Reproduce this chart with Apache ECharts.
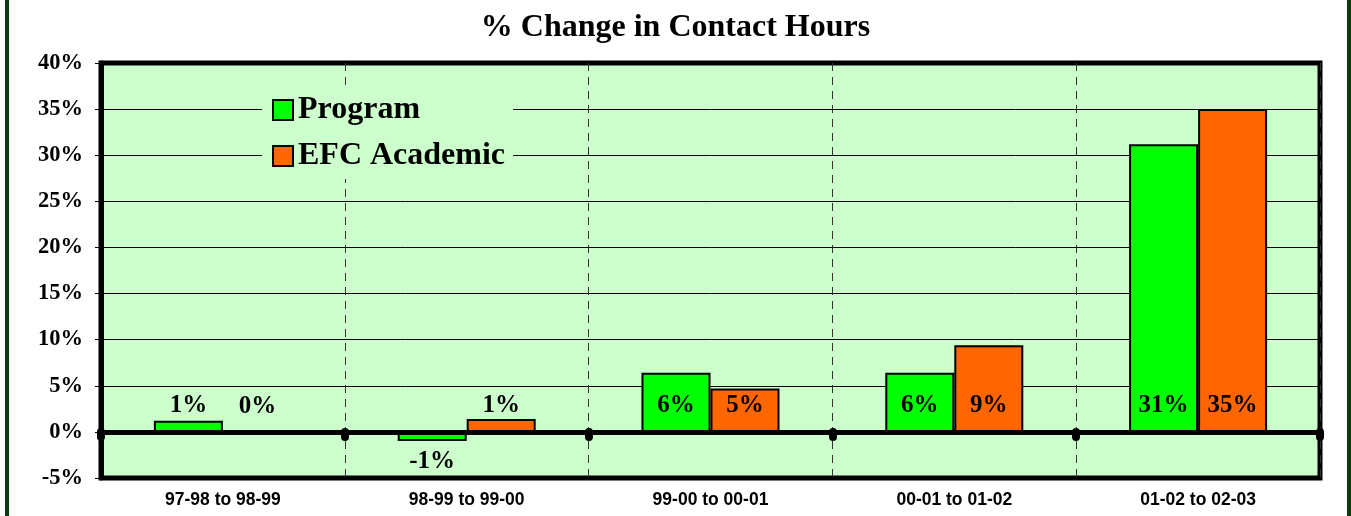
<!DOCTYPE html>
<html>
<head>
<meta charset="utf-8">
<script src="https://cdn.jsdelivr.net/npm/echarts@6/dist/echarts.min.js"></script>
<style>
  body { margin:0; background:#fff; }
  #wrap { position:relative; width:1351px; height:516px; }
  #main { position:absolute; left:0; top:0; width:1351px; height:516px; }
  .edge { position:absolute; top:0; width:4px; height:516px; background:#0b3d0b; }
</style>
</head>
<body>
<div id="wrap">
  <div id="main"></div>
  <div class="edge" style="left:5px"></div>
  <div class="edge" style="left:1347px"></div>
</div>
<script>
var categories = ['97-98 to 98-99', '98-99 to 99-00', '99-00 to 00-01', '00-01 to 01-02', '01-02 to 02-03'];
var program = [1.2, -1.0, 6.4, 6.4, 31.2];
var efcAcademic = [0.0, 1.4, 4.7, 9.4, 35.0];
var seriesNames = ['Program', 'EFC Academic'];

var serif = '"Liberation Serif", "Times New Roman", serif';

function withLabels(values){
  return values.map(function(v){
    var neg = v < 0;
    return {
      value: v,
      label: {
        show: true,
        position: neg ? 'insideTop' : 'insideBottom',
        distance: neg ? 17 : 14
      }
    };
  });
}

var labelStyle = {
  fontFamily: serif,
  fontWeight: 'bold',
  fontSize: 25,
  color: '#000',
  formatter: function(p){ return Math.round(p.value) + '%'; }
};

var myChart = echarts.init(document.getElementById('main'));
var option = {
  animation: false,
  title: {
    text: '% Change in Contact Hours',
    left: 'center',
    top: 7,
    textStyle: { fontFamily: serif, fontWeight: 'bold', fontSize: 32, color: '#000' }
  },
  legend: {
    orient: 'vertical',
    left: 262,
    top: 87,
    icon: 'rect',
    itemWidth: 20,
    itemHeight: 20,
    itemGap: 12,
    padding: [6, 8, 6, 10],
    backgroundColor: '#ccffcc',
    textStyle: { fontFamily: serif, fontWeight: 'bold', fontSize: 32, color: '#000', lineHeight: 34 },
    data: seriesNames
  },
  grid: {
    left: 101, right: 31, top: 63, bottom: 38,
    show: true,
    backgroundColor: '#ccffcc',
    borderColor: '#000',
    borderWidth: 5
  },
  xAxis: [{
    type: 'category',
    data: categories,
    position: 'bottom',
    axisLine: { show: false, onZero: false },
    axisTick: { show: false },
    splitLine: { show: true, lineStyle: { color: '#333', width: 1, type: [8, 6] } },
    axisLabel: {
      margin: 13,
      fontFamily: '"Liberation Sans", Arial, sans-serif',
      fontWeight: 'bold',
      fontSize: 17.5,
      color: '#000'
    }
  }, {
    type: 'category',
    data: categories,
    position: 'bottom',
    z: 10,
    axisLine: { show: true, onZero: true, lineStyle: { color: '#000', width: 5 } },
    axisTick: { show: true, length: 5, lineStyle: { color: '#000', width: 8, cap: 'round' } },
    axisLabel: { show: false },
    splitLine: { show: false }
  }],
  yAxis: {
    type: 'value',
    min: -5,
    max: 40,
    interval: 5,
    axisLine: { show: true, lineStyle: { color: '#000', width: 5 } },
    axisTick: { show: true, length: 6, lineStyle: { color: '#000', width: 1 } },
    splitLine: { show: true, lineStyle: { color: '#000', width: 1 } },
    axisLabel: {
      formatter: '{value}%',
      margin: 18,
      fontFamily: serif,
      fontWeight: 'bold',
      fontSize: 22.5,
      color: '#000'
    }
  },
  series: [{
    name: seriesNames[0],
    type: 'bar',
    barWidth: 69,
    barGap: '0%',
    itemStyle: { color: '#00ff00', borderColor: '#000', borderWidth: 2 },
    label: labelStyle,
    data: withLabels(program)
  }, {
    name: seriesNames[1],
    type: 'bar',
    barWidth: 69,
    barGap: '0%',
    itemStyle: { color: '#ff6600', borderColor: '#000', borderWidth: 2 },
    label: labelStyle,
    data: withLabels(efcAcademic)
  }]
};
myChart.setOption(option);
</script>
</body>
</html>
